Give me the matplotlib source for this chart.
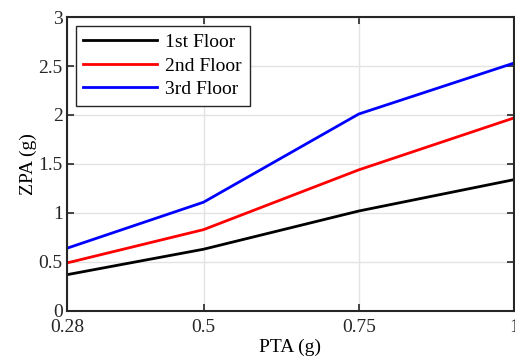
import matplotlib
matplotlib.use("Agg")
import matplotlib.pyplot as plt

pta = [0.28, 0.5, 0.75, 1.0]
floor1 = [0.37, 0.63, 1.02, 1.34]
floor2 = [0.49, 0.83, 1.44, 1.97]
floor3 = [0.64, 1.11, 2.01, 2.53]
labels = ["1st Floor", "2nd Floor", "3rd Floor"]
colors = ["black", "red", "blue"]
xticks = [0.28, 0.5, 0.75, 1]
xticklabels = ["0.28", "0.5", "0.75", "1"]
yticks = [0, 0.5, 1, 1.5, 2, 2.5, 3]
yticklabels = ["0", "0.5", "1", "1.5", "2", "2.5", "3"]

plt.rcParams["font.family"] = ["Liberation Serif", "DejaVu Serif"]
plt.rcParams["font.size"] = 14

fig = plt.figure(figsize=(5.15, 3.62), dpi=100)
ax = fig.add_axes([0.130, 0.141, 0.868, 0.812])

for ys, lab, c in zip([floor1, floor2, floor3], labels, colors):
    ax.plot(pta, ys, color=c, lw=2, label=lab)

ax.set_xlim(0.28, 1)
ax.set_ylim(0, 3)
ax.set_xticks(xticks)
ax.set_xticklabels(xticklabels)
ax.set_yticks(yticks)
ax.set_yticklabels(yticklabels)
ax.grid(True, color="#e3e3e3", lw=1)
ax.set_axisbelow(True)
ax.tick_params(direction="in", length=5, width=1.2, top=True, right=True,
               colors="#262626", labelcolor="#262626")
ax.tick_params(axis="x", pad=6)
ax.tick_params(axis="y", pad=3)
for s in ax.spines.values():
    s.set_linewidth(1.5)
    s.set_color("#262626")

ax.set_xlabel("PTA (g)", labelpad=2)
ax.set_ylabel("ZPA (g)", labelpad=1)

leg = ax.legend(loc="upper left", fancybox=False, edgecolor="#262626",
                framealpha=1, handlelength=3.8, borderaxespad=0.45,
                labelspacing=0.3, borderpad=0.4, handletextpad=0.4)
leg.get_frame().set_linewidth(1.0)

fig.savefig("out.png", dpi=100)
